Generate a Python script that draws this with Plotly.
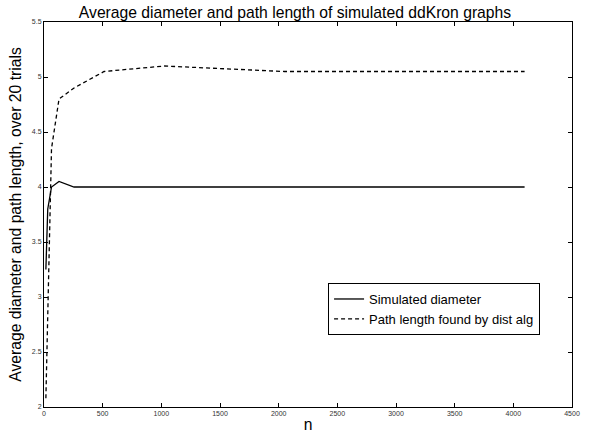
import plotly.graph_objects as go

n = [16, 32, 64, 128, 256, 512, 1024, 2048, 4096]
diameter = [3.25, 3.8, 4.0, 4.05, 4.0, 4.0, 4.0, 4.0, 4.0]
path_len = [2.08, 2.75, 4.35, 4.8, 4.9, 5.05, 5.1, 5.05, 5.05]

x_ticks = [0, 500, 1000, 1500, 2000, 2500, 3000, 3500, 4000, 4500]
y_ticks = [2, 2.5, 3, 3.5, 4, 4.5, 5, 5.5]

fig = go.Figure()
fig.add_trace(go.Scatter(x=n, y=diameter, mode="lines", name="Simulated diameter",
                         line=dict(color="black", width=1.3)))
fig.add_trace(go.Scatter(x=n, y=path_len, mode="lines", name="Path length found by dist alg",
                         line=dict(color="black", width=1.3, dash="4px,3px")))

FONT = "Liberation Sans, Arial, sans-serif"

axis_common = dict(showline=True, linecolor="black", linewidth=1, mirror="ticks",
                   ticks="inside", ticklen=4, tickcolor="black", showgrid=False,
                   zeroline=False, automargin=False,
                   tickfont=dict(family=FONT, size=7, color="#333"))

fig.update_layout(
    width=590, height=436,
    margin=dict(l=44, r=18, t=22, b=29),
    paper_bgcolor="white", plot_bgcolor="white",
    font=dict(family=FONT, color="black"),
    title=dict(text="Average diameter and path length of simulated ddKron graphs",
               x=0.5, xanchor="center", y=1, yref="paper", yanchor="bottom",
               pad=dict(b=4), font=dict(size=15.7, color="black", family=FONT)),
    xaxis=dict(range=[0, 4500], tickvals=x_ticks, ticktext=[str(v) for v in x_ticks],
               title=dict(text="n", font=dict(size=15.7, color="black", family=FONT), standoff=2),
               **axis_common),
    yaxis=dict(range=[2, 5.5], tickvals=y_ticks, ticktext=[f"{v:g}" for v in y_ticks],
               title=dict(text="Average diameter and path length, over 20 trials",
                          font=dict(size=15.7, color="black", family=FONT), standoff=6),
               **axis_common),
    legend=dict(x=0.538, y=0.322, xanchor="left", yanchor="top",
                bordercolor="black", borderwidth=1, bgcolor="white",
                font=dict(size=13, color="black", family=FONT), itemwidth=30, tracegroupgap=0),
    showlegend=True,
)

fig.write_html("out.html")
